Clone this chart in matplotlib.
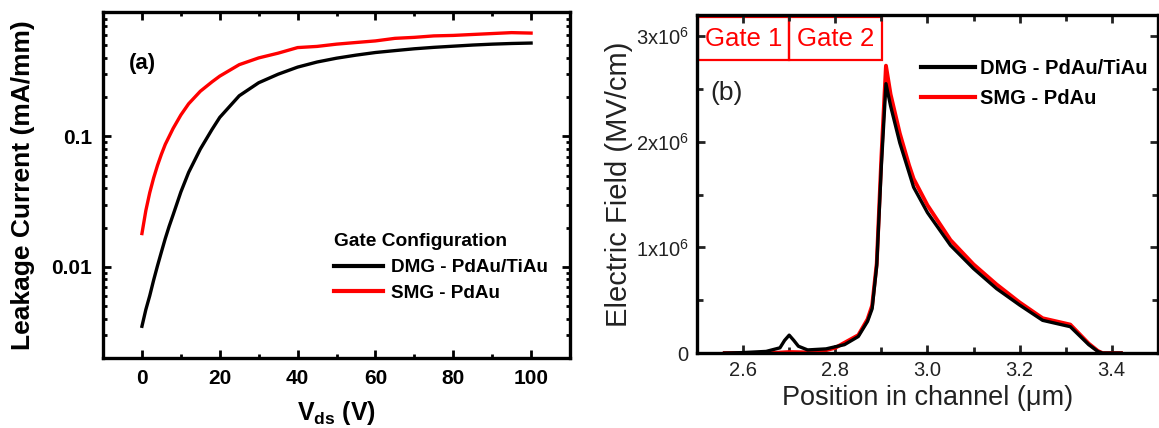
import matplotlib
matplotlib.use("Agg")
import matplotlib.pyplot as plt
import numpy as np
from matplotlib.ticker import MultipleLocator, LogLocator, FuncFormatter, NullFormatter
from matplotlib.lines import Line2D

plt.rcParams['font.family'] = ['Liberation Sans', 'DejaVu Sans']
plt.rcParams['mathtext.fontset'] = 'custom'
plt.rcParams['mathtext.rm'] = 'Liberation Sans'
plt.rcParams['mathtext.it'] = 'Liberation Sans:italic'
plt.rcParams['mathtext.bf'] = 'Liberation Sans:bold'

# ---- Panel (a) data: leakage current vs Vds ----
vds = [0, 1, 2, 3, 4, 5, 6, 7, 8, 10, 12, 15, 18, 20, 25, 30, 35, 40, 45, 50, 55, 60, 65, 70, 75, 80, 85, 90, 95, 100]
dmg_leak = [0.0035, 0.0047, 0.006, 0.0079, 0.0102, 0.013, 0.0165, 0.0205, 0.025, 0.0375, 0.053, 0.08,
            0.113, 0.14, 0.205, 0.258, 0.30, 0.34, 0.372, 0.398, 0.42, 0.44, 0.455, 0.47, 0.482, 0.492,
            0.502, 0.51, 0.516, 0.52]
smg_leak = [0.018, 0.027, 0.037, 0.048, 0.06, 0.073, 0.087, 0.10, 0.115, 0.146, 0.178, 0.222, 0.262, 0.29,
            0.355, 0.40, 0.435, 0.48, 0.49, 0.51, 0.525, 0.54, 0.565, 0.575, 0.59, 0.595, 0.605, 0.615,
            0.625, 0.62]

# ---- Panel (b) data: electric field vs position ----
pos_dmg = [2.56, 2.60, 2.65, 2.68, 2.69, 2.70, 2.71, 2.72, 2.74, 2.78, 2.82, 2.85, 2.87, 2.88, 2.89,
           2.90, 2.91, 2.92, 2.94, 2.96, 2.97, 3.00, 3.05, 3.10, 3.15, 3.20, 3.25, 3.31, 3.35, 3.37, 3.38, 3.42]
ef_dmg = [0.0, 0.005e6, 0.016e6, 0.05e6, 0.12e6, 0.17e6, 0.12e6, 0.065e6, 0.03e6, 0.04e6, 0.08e6, 0.157e6,
          0.30e6, 0.42e6, 0.83e6, 1.77e6, 2.55e6, 2.34e6, 1.99e6, 1.71e6, 1.57e6, 1.33e6, 1.02e6, 0.80e6,
          0.61e6, 0.455e6, 0.31e6, 0.25e6, 0.08e6, 0.015e6, 0.0, 0.0]
pos_smg = [2.56, 2.66, 2.70, 2.76, 2.80, 2.85, 2.87, 2.88, 2.89, 2.90, 2.91, 2.92, 2.94, 2.96, 2.97, 3.00,
           3.05, 3.10, 3.15, 3.20, 3.25, 3.31, 3.35, 3.37, 3.38, 3.42]
ef_smg = [0.0, 0.0, 0.01e6, 0.005e6, 0.05e6, 0.17e6, 0.32e6, 0.45e6, 0.85e6, 1.85e6, 2.72e6, 2.45e6, 2.08e6,
          1.78e6, 1.65e6, 1.40e6, 1.07e6, 0.84e6, 0.65e6, 0.48e6, 0.33e6, 0.27e6, 0.09e6, 0.02e6, 0.0, 0.0]

legend_labels = ['DMG - PdAu/TiAu', 'SMG - PdAu']
colors = ['black', '#ff0000']

fig = plt.figure(figsize=(11.59, 4.28), dpi=100)

# ================= Panel (a) =================
axa = fig.add_axes([0.0889, 0.1636, 0.4029, 0.8084])
axa.plot(vds, dmg_leak, color=colors[0], lw=2.4)
axa.plot(vds, smg_leak, color=colors[1], lw=2.4)
axa.set_yscale('log')
axa.set_xlim(-10, 110)
axa.set_ylim(0.002, 0.9)
axa.xaxis.set_major_locator(MultipleLocator(20))
axa.xaxis.set_minor_locator(MultipleLocator(10))
axa.yaxis.set_major_locator(LogLocator(base=10))
axa.yaxis.set_minor_locator(LogLocator(base=10, subs=np.arange(2, 10)))
axa.yaxis.set_minor_formatter(NullFormatter())
axa.yaxis.set_major_formatter(FuncFormatter(lambda v, p: {0.1: '0.1', 0.01: '0.01'}.get(round(v, 6), '')))
axa.tick_params(which='both', direction='in', top=True, right=True, width=2)
axa.tick_params(which='major', length=6, labelsize=15, pad=8)
axa.tick_params(which='minor', length=3)
for lab in axa.get_xticklabels() + axa.get_yticklabels():
    lab.set_fontweight('bold')
for s in axa.spines.values():
    s.set_linewidth(2.4)
axa.set_ylabel('Leakage Current (mA/mm)', fontsize=19, fontweight='bold', labelpad=12)
axa.set_xlabel(r'$\mathbf{V_{ds}}$ (V)', fontsize=18, fontweight='bold', labelpad=8)
axa.text(0.055, 0.85, '(a)', transform=axa.transAxes, fontsize=16, fontweight='bold', va='center', ha='left')
handles_a = [Line2D([], [], color=colors[0], lw=3), Line2D([], [], color=colors[1], lw=3)]
axa.legend(handles_a, legend_labels, title='Gate Configuration', loc='upper left',
           bbox_to_anchor=(0.495, 0.36), frameon=False, handlelength=2.6, handletextpad=0.4,
           labelspacing=0.45, borderpad=0, borderaxespad=0, alignment='left',
           prop={'weight': 'bold', 'size': 13.6},
           title_fontproperties={'weight': 'bold', 'size': 13.8})

# ================= Panel (b) =================
axb = fig.add_axes([0.6014, 0.175, 0.3976, 0.79])
axb.plot(pos_smg, ef_smg, color=colors[1], lw=2.8)
axb.plot(pos_dmg, ef_dmg, color=colors[0], lw=2.4)
axb.set_xlim(2.5, 3.5)
axb.set_ylim(0, 3.2e6)
axb.xaxis.set_major_locator(MultipleLocator(0.2))
axb.xaxis.set_minor_locator(MultipleLocator(0.1))
axb.yaxis.set_major_locator(MultipleLocator(1e6))
axb.yaxis.set_minor_locator(MultipleLocator(0.5e6))
axb.xaxis.set_major_formatter(FuncFormatter(lambda v, p: f'{v:.1f}'))

def efmt(v, p):
    n = int(round(v / 1e6))
    return '0' if n == 0 else r'%dx10$^{6}$' % n

axb.yaxis.set_major_formatter(FuncFormatter(efmt))
axb.tick_params(which='both', direction='in', top=True, right=True, width=2, colors='#222222')
axb.tick_params(which='major', length=6, labelsize=14.5, pad=6)
axb.tick_params(which='minor', length=4)
for s in axb.spines.values():
    s.set_linewidth(2.4)
axb.set_ylabel('Electric Field (MV/cm)', fontsize=21, labelpad=2, color='#222222')
axb.set_xlabel('Position in channel (\u03bcm)', fontsize=19.5, labelpad=3, color='#222222')
axb.text(0.03, 0.77, '(b)', transform=axb.transAxes, fontsize=19, va='center', ha='left', color='#222222')

# gate boxes
gate_edges = [2.503, 2.70, 2.902]
gate_names = ['Gate 1', 'Gate 2']
for i, name in enumerate(gate_names):
    x0, x1 = gate_edges[i], gate_edges[i + 1]
    axb.add_patch(plt.Rectangle((x0, 2.77e6), x1 - x0, 0.41e6, fill=False, ec='#ff0000', lw=1.6))
    axb.text((x0 + x1) / 2, 2.97e6, name, color='#ff0000', fontsize=18.5, ha='center', va='center')

handles_b = [Line2D([], [], color=colors[0], lw=3), Line2D([], [], color=colors[1], lw=3)]
axb.legend(handles_b, legend_labels, loc='upper left', bbox_to_anchor=(0.485, 0.87), frameon=False,
           handlelength=2.7, handletextpad=0.25, labelspacing=0.55, borderpad=0, borderaxespad=0,
           prop={'weight': 'bold', 'size': 14.5})

fig.savefig('out.png', dpi=100)
